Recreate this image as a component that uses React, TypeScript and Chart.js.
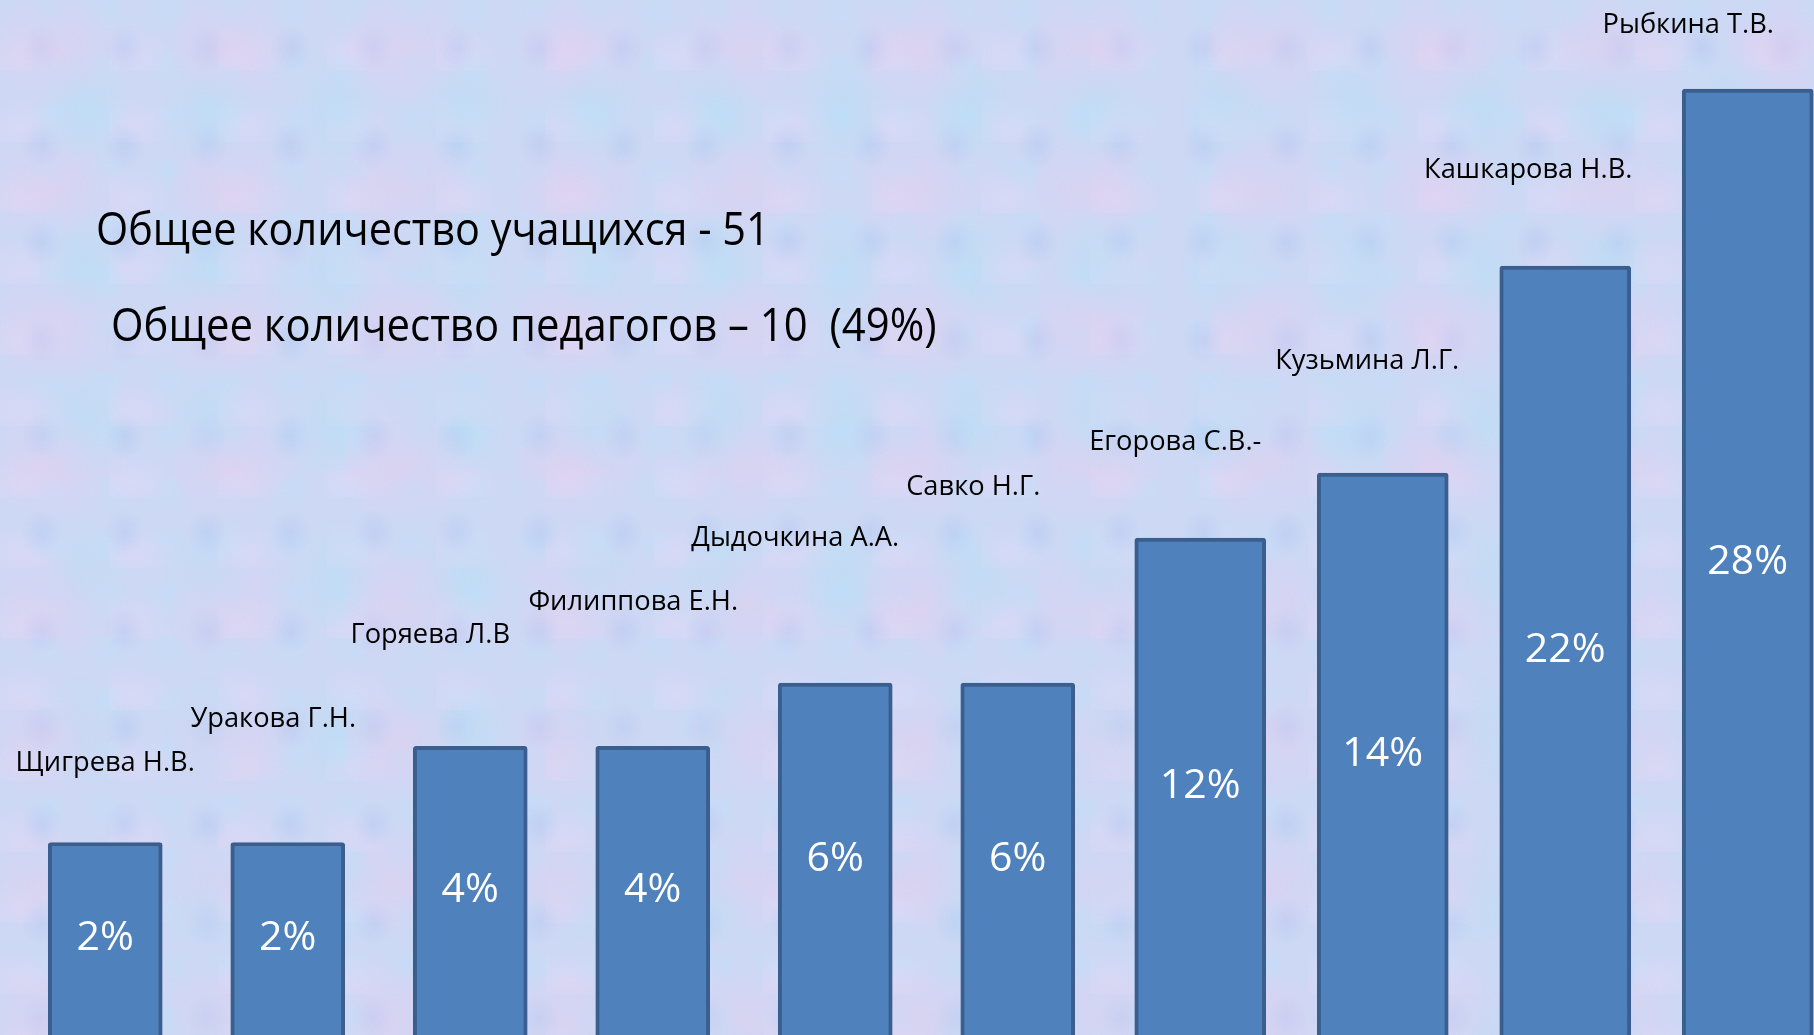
import React, { useEffect, useRef } from 'react';
import { Chart, registerables } from 'chart.js';

Chart.register(...registerables);

// ---- data ----
const teachers = [
  'Щигрева Н.В.',
  'Уракова Г.Н.',
  'Горяева Л.В',
  'Филиппова Е.Н.',
  'Дыдочкина А.А.',
  'Савко Н.Г.',
  'Егорова С.В.-',
  'Кузьмина Л.Г.',
  'Кашкарова Н.В.',
  'Рыбкина Т.В.',
];
const shares = [2, 2, 4, 4, 6, 6, 12, 14, 22, 28];
// visual bar heights (the slide's bars are hand-drawn, not proportional to shares)
const barHeights = [18.6, 18.6, 27.9, 27.9, 34.0, 34.0, 48.0, 54.3, 74.3, 91.4];
const narrowBars = 6; // the first six bars are narrower than the last four
const titleLines = [
  'Общее количество учащихся - 51',
  'Общее количество педагогов – 10  (49%)',
];

// ---- label placement relative to each bar (style/layout, px) ----
const nameDx = [0, -14.5, -40, -19.5, -40, -44.5, -25, -15.5, -37, -59.5];
const nameGap = [71, 115, 103, 136, 137, 188, 88, 104, 88, 56];

const FONT = '"Open Sans", "Noto Sans", "DejaVu Sans", sans-serif';

function drawScaled(
  ctx: CanvasRenderingContext2D,
  text: string,
  x: number,
  y: number,
  sx: number,
) {
  ctx.save();
  ctx.translate(x, y);
  ctx.scale(sx, 1);
  ctx.fillText(text, 0, 0);
  ctx.restore();
}

export default function App() {
  const ref = useRef<HTMLCanvasElement | null>(null);

  useEffect(() => {
    const canvas = ref.current;
    if (!canvas) return;

    const textPlugin = {
      id: 'slideText',
      afterDatasetsDraw(chart: any) {
        const ctx = chart.ctx as CanvasRenderingContext2D;
        ctx.save();
        // titles
        ctx.fillStyle = '#000';
        ctx.textAlign = 'left';
        ctx.textBaseline = 'alphabetic';
        ctx.font = `45px ${FONT}`;
        drawScaled(ctx, titleLines[0], 96, 245, 0.92);
        drawScaled(ctx, titleLines[1], 111, 341, 0.93);

        teachers.forEach((name, i) => {
          const dsIndex = i < narrowBars ? 0 : 1;
          const el = chart.getDatasetMeta(dsIndex).data[i];
          if (!el) return;
          const { x, y, base } = el.getProps(['x', 'y', 'base'], true);
          // teacher name above the bar
          ctx.fillStyle = '#000';
          ctx.textAlign = 'center';
          ctx.textBaseline = 'alphabetic';
          ctx.font = `27px ${FONT}`;
          drawScaled(ctx, name, x + nameDx[i], y - nameGap[i], 1.01);
          // share inside the bar (centred in the visible part)
          ctx.fillStyle = '#fff';
          ctx.textBaseline = 'middle';
          ctx.font = `41px ${FONT}`;
          const bottom = Math.min(base, chart.chartArea.bottom);
          ctx.fillText(`${shares[i]}%`, x, (y + bottom) / 2);
        });
        ctx.restore();
      },
    };

    const common = {
      backgroundColor: '#4F81BD',
      borderColor: '#3A5F8E',
      borderWidth: 4,
      borderRadius: 3,
      borderSkipped: 'start' as const,
      grouped: false,
    };

    const chart = new Chart(canvas, {
      type: 'bar',
      data: {
        labels: teachers,
        datasets: [
          {
            ...common,
            data: barHeights.map((v, i) => (i < narrowBars ? v : null)),
            barThickness: 114,
          },
          {
            ...common,
            data: barHeights.map((v, i) => (i >= narrowBars ? v : null)),
            barThickness: 131,
          },
        ],
      },
      options: {
        responsive: false,
        animation: false,
        devicePixelRatio: 1,
        layout: { padding: { left: 14, right: 0, top: 0, bottom: 0 } },
        plugins: {
          legend: { display: false },
          tooltip: { enabled: false },
          title: { display: false },
        },
        scales: {
          x: { type: 'category', display: false, offset: true, grid: { display: false } },
          y: { display: false, min: 0, max: 100, grid: { display: false } },
        },
      },
      plugins: [textPlugin],
    });

    return () => chart.destroy();
  }, []);

  return (
    <div
      style={{
        position: 'fixed',
        left: 0,
        top: 0,
        width: 1814,
        height: 1035,
        overflow: 'hidden',
        background:
          'radial-gradient(ellipse at 30% 35%, rgba(240,200,236,0.35) 0%, transparent 45%) 0 0/173px 139px,' +
          'radial-gradient(ellipse at 65% 70%, rgba(175,226,246,0.4) 0%, transparent 40%) 0 0/127px 157px,' +
          'radial-gradient(ellipse at 50% 50%, rgba(170,192,240,0.35) 0%, transparent 35%) 0 0/83px 97px,' +
          'radial-gradient(ellipse at 20% 80%, rgba(232,218,248,0.4) 0%, transparent 40%) 0 0/109px 71px,' +
          'radial-gradient(ellipse at 80% 20%, rgba(190,225,250,0.35) 0%, transparent 40%) 0 0/61px 53px,' +
          'rgb(204,216,244)',
      }}
    >
      <canvas ref={ref} width={1839} height={1035} style={{ display: 'block', width: 1839, height: 1035 }} />
    </div>
  );
}
